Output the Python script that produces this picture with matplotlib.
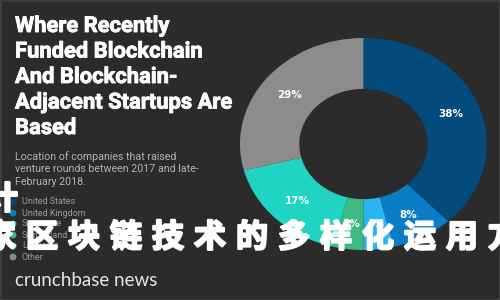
import matplotlib
matplotlib.use("Agg")
import matplotlib.pyplot as plt
from matplotlib.patches import Rectangle
import matplotlib.patheffects as pe

# ---- data ----
countries = ["United States", "United Kingdom", "Singapore", "Switzerland", "Lithuania", "Other"]
shares = [38, 8, 4, 4, 17, 29]
slice_colors = ["#034b7c", "#0b7cc6", "#2bb5f0", "#3cba82", "#1fd4c2", "#8c8c8c"]
pct_labels = ["38%", "8%", "4%", "4%", "17%", "29%"]

title_lines = ["Where Recently", "Funded Blockchain", "And Blockchain-", "Adjacent Startups Are", "Based"]
subtitle_lines = ["Location of companies that raised", "venture rounds between 2017 and late-", "February 2018."]
brand = "crunchbase news"
overlay_line1 = ["计"]
overlay_line2 = ["家", "区", "块", "链", "技", "术", "的", "多", "样", "化", "运", "用", "方"]

BG = "#2b2b2b"
W, H = 500, 300
fig = plt.figure(figsize=(5, 3), dpi=100, facecolor=BG)

# ---- donut ----
x0, x1, y0, y1 = 240, 487, 38, 250
pax = fig.add_axes([x0 / W, 1 - y1 / H, (x1 - x0) / W, (y1 - y0) / H])
pax.set_facecolor("none")
wedges, texts, autotexts = pax.pie(
    shares, colors=slice_colors, startangle=90, counterclock=False,
    radius=1.0, wedgeprops=dict(width=0.48, linewidth=0),
    autopct="%d%%", pctdistance=0.76,
    textprops=dict(color="white", fontsize=7.5, fontweight="bold", family="DejaVu Sans"))
for t, lab in zip(autotexts, pct_labels):
    t.set_text(lab)
pax.set_aspect("auto")
pax.set_xlim(-1, 1)
pax.set_ylim(-1, 1)
pax.axis("off")

# ---- overlay axes in pixel coordinates ----
ax = fig.add_axes([0, 0, 1, 1])
ax.set_xlim(0, W)
ax.set_ylim(H, 0)
ax.set_facecolor("none")
ax.axis("off")

ax.add_patch(Rectangle((0.5, 0.5), W - 1, H - 1, fill=False, edgecolor="#3e3e3e", linewidth=1.5))

for i, line in enumerate(title_lines):
    ax.text(15, 26 + i * 25.5, line, color="white", fontsize=15.8, fontweight="bold",
            family="Roboto", va="center", ha="left",
            path_effects=[pe.withStroke(linewidth=0.6, foreground="white")])

for i, line in enumerate(subtitle_lines):
    ax.text(15, 157 + i * 12.5, line, color="#b3b3b3", fontsize=7.7, family="Roboto",
            va="center", ha="left")

for i, (name, col) in enumerate(zip(countries, slice_colors)):
    y = 202 + i * 11
    ax.scatter([13], [y], s=24, color=col, edgecolors="none")
    ax.text(22, y, name, color="#9a9a9a", fontsize=6.5, family="Roboto", va="center", ha="left")

ax.text(15, 280, brand, color="#e6e6e6", fontsize=13.5, family="Lato", va="center", ha="left")

cjk = ["Noto Sans CJK SC", "DejaVu Sans"]
stroke = [pe.withStroke(linewidth=1.6, foreground="white")]
for i, ch in enumerate(overlay_line1):
    ax.text(2, 200, ch, color="white", fontsize=23, fontweight="black", family=cjk,
            va="center", ha="center", path_effects=stroke)
for i, ch in enumerate(overlay_line2):
    ax.text(0 + i * 42, 238, ch, color="white", fontsize=23, fontweight="black", family=cjk,
            va="center", ha="center", path_effects=stroke)

fig.savefig("out.png", dpi=100, facecolor=BG)
